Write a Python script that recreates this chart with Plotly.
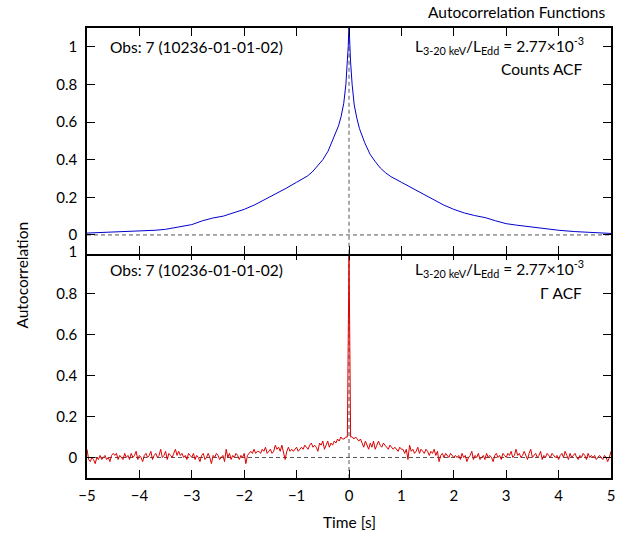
import numpy as np
import plotly.graph_objects as go

# ---------------- data ----------------
# Counts ACF (top panel)
counts_t = [-5.0, -4.5, -4.0, -3.7, -3.5, -3.3, -3.2, -3.0, -2.8, -2.6, -2.4, -2.2, -2.0,
            -1.8, -1.6, -1.4, -1.2, -1.0, -0.8, -0.7, -0.6, -0.5, -0.4, -0.3, -0.2, -0.15,
            -0.1, -0.06, -0.03, -0.015, 0.0,
            0.015, 0.03, 0.06, 0.1, 0.15, 0.2, 0.3, 0.4, 0.5, 0.6, 0.7, 0.8, 1.0, 1.2, 1.4,
            1.6, 1.8, 2.0, 2.2, 2.4, 2.6, 2.8, 3.0, 3.2, 3.4, 3.6, 3.8, 4.0, 4.3, 4.6, 5.0]
counts_acf = [0.010, 0.015, 0.020, 0.025, 0.030, 0.040, 0.045, 0.055, 0.075, 0.090, 0.100,
              0.118, 0.136, 0.160, 0.188, 0.218, 0.248, 0.280, 0.312, 0.335, 0.365, 0.400,
              0.445, 0.510, 0.580, 0.630, 0.700, 0.800, 0.920, 1.000, 1.120,
              1.000, 0.920, 0.800, 0.690, 0.620, 0.565, 0.490, 0.430, 0.390, 0.355, 0.330,
              0.310, 0.280, 0.250, 0.220, 0.190, 0.160, 0.136, 0.117, 0.103, 0.092, 0.075,
              0.060, 0.052, 0.045, 0.037, 0.030, 0.025, 0.018, 0.013, 0.008]

# Gamma ACF (bottom panel), sampled every 1/32 s
gamma_left = [
    0.04, -0.01, -0.02, 0.00, -0.01, -0.03, 0.00, -0.01, 0.01, -0.01, 0.00, 0.01, -0.01, 0.00, -0.02, 0.01,
    0.02, 0.01, 0.02, -0.01, 0.01, 0.00, -0.01, 0.02, 0.00, 0.01, -0.01, 0.02, 0.00, 0.01, 0.03, -0.01,
    0.01, 0.00, -0.02, 0.01, 0.02, 0.00, 0.01, 0.03, -0.01, 0.01, 0.02, 0.00, 0.01, 0.04, 0.00, 0.01,
    0.03, -0.01, 0.02, 0.01, 0.00, 0.02, 0.04, 0.01, 0.03, 0.01, 0.02, 0.00, 0.01, -0.01, 0.02, 0.01,
    0.00, 0.02, -0.01, 0.01, 0.00, -0.02, 0.01, 0.02, -0.01, 0.00, 0.02, 0.00, -0.03, 0.01, 0.00, 0.02,
    0.01, -0.01, 0.00, 0.01, -0.02, 0.04, 0.00, 0.02, -0.01, 0.01, 0.00, 0.02, 0.01, -0.01, 0.01, 0.00,
    0.02, -0.03, 0.01, 0.02, 0.03, 0.02, 0.04, 0.02, 0.03, 0.03, 0.02, 0.04, 0.03, 0.05, 0.02, 0.03,
    0.04, 0.02, 0.03, 0.06, 0.04, 0.05, 0.03, 0.06, 0.02, -0.01, 0.03, 0.05, 0.03, 0.04, 0.03, 0.04,
    0.05, 0.03, 0.04, 0.05, 0.04, 0.06, 0.05, 0.04, 0.06, 0.07, 0.05, 0.06, 0.05, 0.03, 0.07, 0.06,
    0.08, 0.04, 0.06, 0.08, 0.05, 0.07, 0.06, 0.08, 0.07, 0.09, 0.08, 0.10, 0.09, 0.09, 0.10, 0.10,
]
gamma_peak = [1.0]
gamma_right = [
    0.10, 0.10, 0.09, 0.10, 0.09, 0.08, 0.09, 0.07, 0.05, 0.08, 0.06, 0.04, 0.07, 0.05, 0.08, 0.04,
    0.06, 0.08, 0.06, 0.05, 0.07, 0.06, 0.05, 0.04, 0.06, 0.05, 0.04, 0.05, 0.04, 0.03, 0.05, 0.04,
    0.04, 0.02, 0.04, -0.01, 0.06, 0.03, 0.04, 0.02, 0.03, 0.05, 0.02, 0.04, 0.03, 0.02, 0.04, 0.03,
    0.01, 0.03, 0.02, 0.04, 0.01, 0.03, -0.02, 0.01, 0.02, 0.00, 0.02, 0.01, 0.00, 0.02, 0.01, 0.00,
    0.01, 0.00, 0.01, -0.01, 0.02, 0.00, 0.01, -0.02, 0.00, 0.01, 0.03, -0.01, 0.01, 0.00, 0.02, -0.01,
    0.00, 0.01, -0.01, 0.02, 0.00, 0.01, 0.00, -0.02, 0.01, 0.02, 0.00, 0.01, -0.01, 0.02, 0.01, 0.00,
    0.02, 0.01, 0.03, 0.00, 0.01, 0.04, 0.01, 0.02, 0.00, 0.01, 0.03, 0.01, -0.01, 0.02, 0.04, 0.00,
    0.01, 0.02, 0.00, 0.01, 0.03, -0.01, 0.01, 0.00, 0.02, 0.01, 0.00, 0.02, 0.01, 0.00, 0.01, -0.01,
    0.01, 0.02, 0.00, 0.03, 0.01, -0.01, 0.02, 0.00, 0.01, 0.02, 0.00, -0.01, 0.01, 0.00, 0.02, 0.01,
    -0.01, 0.02, 0.00, 0.01, 0.00, 0.01, -0.01, 0.00, 0.01, 0.00, -0.01, 0.01, 0.00, -0.02, 0.00, 0.03,
]
gamma_acf = gamma_left + gamma_peak + gamma_right
gamma_dt = 1.0 / 32.0
gamma_t = [(i - len(gamma_left)) * gamma_dt for i in range(len(gamma_acf))]

x_ticks = [-5, -4, -3, -2, -1, 0, 1, 2, 3, 4, 5]
y_ticks = [0, 0.2, 0.4, 0.6, 0.8, 1]

obs_label = "Obs: 7 (10236-01-01-02)"
lum_label = "L<sub>3-20 keV</sub>/L<sub>Edd</sub> = 2.77×10<sup>-3</sup>"
top_label = "Counts ACF"
bottom_label = "Γ ACF"

# ---------------- figure ----------------
FONT = "Lato"
TXT = 15.5
fig = go.Figure()
fig.add_trace(go.Scatter(x=counts_t, y=counts_acf, mode="lines",
                         line=dict(color="#0000cc", width=1), xaxis="x2", yaxis="y2",
                         showlegend=False))
fig.add_trace(go.Scatter(x=gamma_t, y=gamma_acf, mode="lines",
                         line=dict(color="#dd0000", width=1), xaxis="x", yaxis="y",
                         showlegend=False))

dash_style = dict(color="#555555", width=1, dash="4px,3px")
shapes = []
for xr, yr, ylo, yhi in (("x", "y", -0.1, 1.0), ("x2", "y2", -0.1, 1.1)):
    shapes.append(dict(type="line", xref=xr, yref=yr, x0=-5, x1=5, y0=0, y1=0,
                       line=dash_style, layer="below"))
    shapes.append(dict(type="line", xref=xr, yref=yr, x0=0, x1=0, y0=ylo, y1=yhi,
                       line=dash_style, layer="below"))

axis_common = dict(showline=True, linecolor="black", linewidth=1.5, mirror="ticks",
                   ticks="inside", ticklen=8, tickwidth=1, tickcolor="black",
                   showgrid=False, zeroline=False,
                   tickfont=dict(family=FONT, size=15, color="black"))

fig.update_layout(
    width=627, height=537,
    margin=dict(l=87, r=12, t=28, b=59),
    plot_bgcolor="white", paper_bgcolor="white",
    font=dict(family=FONT, size=15, color="black"),
    shapes=shapes,
    xaxis=dict(domain=[0, 1], anchor="y", range=[-5, 5], tickvals=x_ticks,
               ticklabelstandoff=3, **axis_common),
    xaxis2=dict(domain=[0, 1], anchor="y2", range=[-5, 5], tickvals=x_ticks,
                matches="x", showticklabels=False, **axis_common),
    yaxis=dict(domain=[0, 0.5017], anchor="x", range=[-0.1, 1.0], tickvals=y_ticks,
               ticklabelstandoff=5, **axis_common),
    yaxis2=dict(domain=[0.4983, 1], anchor="x2", range=[-0.1, 1.1], tickvals=y_ticks,
                ticklabelstandoff=5, **axis_common),
)

ann = []
ann.append(dict(text="Autocorrelation Functions", xref="paper", yref="paper",
                x=0.994, y=1.036, xanchor="right", yanchor="middle", showarrow=False,
                font=dict(family=FONT, size=TXT)))
ann.append(dict(text="Autocorrelation", xref="paper", yref="paper", x=-0.123, y=0.451,
                textangle=-90, xanchor="center", yanchor="middle", showarrow=False,
                font=dict(family=FONT, size=TXT)))
ann.append(dict(text="Time [s]", xref="paper", yref="paper", x=0.5, y=-0.098,
                xanchor="center", yanchor="middle", showarrow=False,
                font=dict(family=FONT, size=TXT)))
for yo, yl, lab2, y2 in ((0.958, 0.962, top_label, 0.909), (0.462, 0.466, bottom_label, 0.411)):
    ann.append(dict(text=obs_label, xref="paper", yref="paper", x=0.04, y=yo,
                    xanchor="left", yanchor="middle", showarrow=False,
                    font=dict(family=FONT, size=TXT)))
    ann.append(dict(text=lum_label, xref="paper", yref="paper", x=0.953, y=yl,
                    xanchor="right", yanchor="middle", showarrow=False,
                    font=dict(family=FONT, size=TXT)))
    ann.append(dict(text=lab2, xref="paper", yref="paper", x=0.949, y=y2,
                    xanchor="right", yanchor="middle", showarrow=False,
                    font=dict(family=FONT, size=TXT)))
fig.update_layout(annotations=ann)

fig.write_html("out.html")
